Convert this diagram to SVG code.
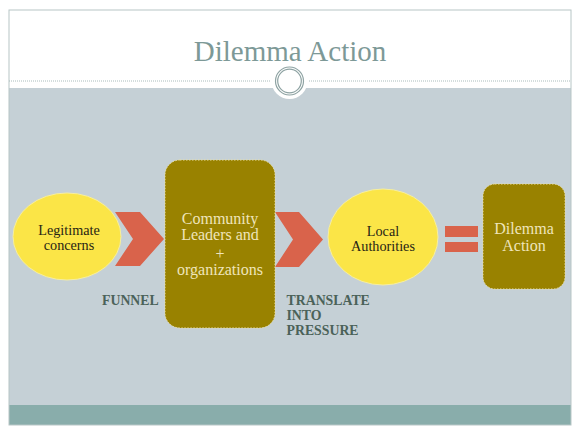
<svg xmlns="http://www.w3.org/2000/svg" width="580" height="435" viewBox="0 0 580 435">
<defs>
<style>
.serif{font-family:"Liberation Serif","DejaVu Serif",serif}
.dark{fill:#262414;font-size:14.2px;text-anchor:middle}
.cream{fill:#efe5bb;font-size:16px;text-anchor:middle}
.lbl{fill:#4b6259;font-size:13.8px;font-weight:bold}
.yel{fill:#fbe547;stroke:#f6eea0;stroke-width:1}
.olive{fill:#998200;stroke:#ece0a0;stroke-width:1;stroke-dasharray:1.5 1.5}
.chev{fill:#d9634b}
</style>
</defs>
<rect x="0" y="0" width="580" height="435" fill="#ffffff"/>
<rect x="9" y="88" width="562" height="317" fill="#c5d0d6"/>
<rect x="9" y="405" width="562" height="20" fill="#89adab"/>
<rect x="9" y="10" width="562" height="415" fill="none" stroke="#b7c6c6" stroke-width="1"/>
<line x1="9" y1="81" x2="270" y2="81" stroke="#a9bcbc" stroke-width="1" stroke-dasharray="1 1"/>
<line x1="309" y1="81" x2="571" y2="81" stroke="#a9bcbc" stroke-width="1" stroke-dasharray="1 1"/>
<circle cx="289.5" cy="81" r="18" fill="#ffffff"/>
<circle cx="289.5" cy="81" r="14" fill="#ffffff" stroke="#8ea3a3" stroke-width="1.2"/>
<circle cx="289.5" cy="81" r="11.8" fill="none" stroke="#8ea3a3" stroke-width="1.2"/>
<text x="290" y="61" class="serif" font-size="29" fill="#7d9997" text-anchor="middle">Dilemma Action</text>

<g id="connectors">
<polygon class="chev" points="115,212 140,212 164,239 140,266 115,266 133,239"/>
<polygon class="chev" points="275,212 299,212 323,239.5 299,267 275,267 293,239.5"/>
<rect class="chev" x="445" y="226" width="33" height="11"/>
<rect class="chev" x="445" y="242" width="33" height="10"/>
</g>

<g id="legitimate">
<ellipse class="yel" cx="67" cy="236.5" rx="54" ry="43.5"/>
<text class="serif dark" x="69" y="234.5">Legitimate</text>
<text class="serif dark" x="69" y="249.5">concerns</text>
</g>

<g id="community">
<rect class="olive" x="165" y="160" width="110" height="168" rx="15"/>
<text class="serif cream" x="220" y="223.5">Community</text>
<text class="serif cream" x="220" y="240">Leaders and</text>
<text class="serif cream" x="220" y="259">+</text>
<text class="serif cream" x="220" y="275">organizations</text>
</g>

<g id="local">
<ellipse class="yel" cx="383" cy="237" rx="55" ry="48"/>
<text class="serif dark" x="383" y="236">Local</text>
<text class="serif dark" x="383" y="251">Authorities</text>
</g>

<g id="dilemma">
<rect class="olive" x="483" y="184" width="82" height="105" rx="12"/>
<text class="serif cream" x="524" y="234">Dilemma</text>
<text class="serif cream" x="524" y="251">Action</text>
</g>

<g id="funnel">
<text class="serif lbl" x="102" y="305" font-size="14">FUNNEL</text>
</g>

<g id="translate">
<text class="serif lbl" x="286.5" y="305">TRANSLATE</text>
<text class="serif lbl" x="286.5" y="320">INTO</text>
<text class="serif lbl" x="286.5" y="335">PRESSURE</text>
</g>
</svg>
